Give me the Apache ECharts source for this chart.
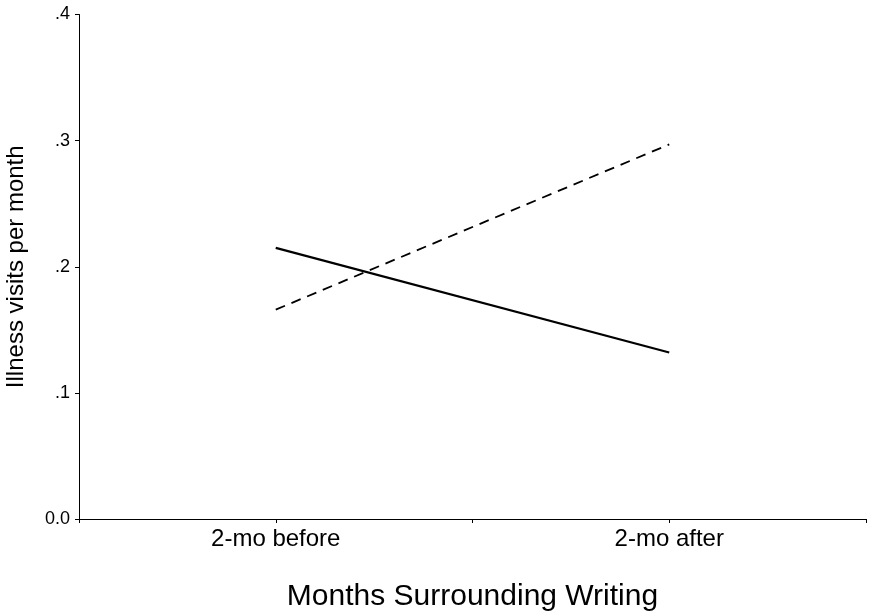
<!DOCTYPE html>
<html>
<head>
<meta charset="utf-8">
<script src="https://cdn.jsdelivr.net/npm/echarts@6/dist/echarts.min.js"></script>
<style>
  html, body { margin: 0; padding: 0; background: #fff; }
  #chart { width: 871px; height: 616px; }
</style>
</head>
<body>
<div id="chart"></div>
<script>
// categories on the x axis
var categories = ['2-mo before', '2-mo after'];
// illness visits per month, one value per category
var solidValues = [0.215, 0.132];
var dashedValues = [0.166, 0.297];
// y tick labels, from 0 up to .4
var yTickLabels = ['0.0', '.1', '.2', '.3', '.4'];

// each category sits at an odd position on a 0..4 axis
var toPoints = function (vals) {
    return vals.map(function (v, i) { return [2 * i + 1, v]; });
};

var font = '"Liberation Sans", Arial, sans-serif';
var myChart = echarts.init(document.getElementById('chart'));
var option = {
    backgroundColor: '#fff',
    animation: false,
    grid: { left: 79, right: 5, top: 14.5, bottom: 97, containLabel: false, outerBoundsMode: 'none' },
    xAxis: {
        type: 'value',
        min: 0,
        max: 4,
        interval: 1,
        name: 'Months Surrounding Writing',
        nameLocation: 'middle',
        nameGap: 63,
        nameTextStyle: { fontFamily: font, fontSize: 30, color: '#000' },
        axisLine: { show: true, lineStyle: { color: '#000', width: 1 } },
        axisTick: { show: true, length: 4, lineStyle: { color: '#000' } },
        splitLine: { show: false },
        axisLabel: {
            margin: 8,
            fontFamily: font,
            fontSize: 24,
            color: '#000',
            showMinLabel: true,
            showMaxLabel: true,
            formatter: function (v) {
                return v % 2 === 1 ? categories[(v - 1) / 2] : '';
            }
        }
    },
    yAxis: {
        type: 'value',
        min: 0,
        max: 0.4,
        interval: 0.1,
        name: 'Illness visits per month',
        nameLocation: 'middle',
        nameGap: 51,
        nameTextStyle: { fontFamily: font, fontSize: 24, color: '#000' },
        axisLine: { show: true, lineStyle: { color: '#000', width: 1 } },
        axisTick: { show: true, length: 4, lineStyle: { color: '#000' } },
        splitLine: { show: false },
        axisLabel: {
            margin: 9,
            fontFamily: font,
            fontSize: 18,
            color: '#000',
            formatter: function (v) {
                return yTickLabels[Math.round(v * 10)];
            }
        }
    },
    series: [
        {
            name: 'solid',
            type: 'line',
            data: toPoints(solidValues),
            showSymbol: false,
            symbol: 'none',
            lineStyle: { color: '#000', width: 2.2, type: 'solid' }
        },
        {
            name: 'dashed',
            type: 'line',
            data: toPoints(dashedValues),
            showSymbol: false,
            symbol: 'none',
            lineStyle: { color: '#000', width: 1.8, type: [10, 7] }
        }
    ]
};
myChart.setOption(option);
</script>
</body>
</html>
